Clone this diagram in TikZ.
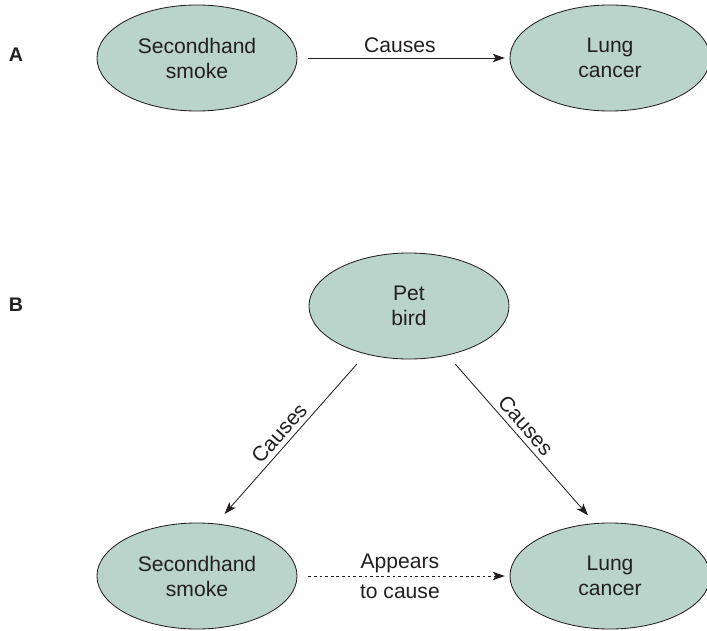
\documentclass[tikz,border=0pt]{standalone}
\usepackage{fontspec}
\setmainfont{Liberation Sans}
\usepackage{xcolor}
\usepackage{tikz}
\usetikzlibrary{shapes.geometric,arrows.meta}

\definecolor{factorfill}{RGB}{186,212,204}
\definecolor{inkgray}{RGB}{35,31,32}

\tikzset{
	factor/.style={ellipse, draw=inkgray, line width=0.6pt, fill=factorfill, minimum width=5cm, minimum height=2.65cm, inner sep=0pt, align=center, text=inkgray, font=\fontsize{15pt}{17.8pt}\selectfont, execute at begin node={\rule{0pt}{16.6pt}}},
	causes/.style={draw=inkgray, line width=0.6pt, -{Stealth[length=8.5pt,width=6pt,inset=2pt]}},
	appears/.style={causes, dash pattern=on 2pt off 2pt},
	tag/.style={text=inkgray, align=center, font=\fontsize{15pt}{21.3pt}\selectfont},
	panel/.style={text=inkgray, font=\fontsize{14pt}{16pt}\selectfont\bfseries}
}

\begin{document}
\begin{tikzpicture}[x=0.025cm, y=-0.025cm]
	\useasboundingbox (0,0) rectangle (707,630);
	\node[panel] (A) at (16,55) {A};
	\node[panel] (B) at (16,305) {B};
	\node[factor] (smokeA) at (197,58) {Secondhand\\smoke};
	\node[factor] (cancerA) at (610,58) {Lung\\cancer};
	\node[factor] (bird) at (409,306) {Pet\\bird};
	\node[factor] (smokeB) at (197,576) {Secondhand\\smoke};
	\node[factor] (cancerB) at (610,576) {Lung\\cancer};
	\draw[causes, shorten <=0.27cm, shorten >=0.12cm] (smokeA) -- node[tag, above, xshift=-0.09cm] {Causes} (cancerA);
	\draw[causes, shorten <=0.33cm, shorten >=0.32cm] (bird.228) -- node[tag, above, sloped, pos=0.515] {Causes} (smokeB.70);
	\draw[causes, shorten <=0.29cm, shorten >=0.26cm] (bird.308) -- node[tag, above, sloped, pos=0.467] {Causes} (cancerB.106);
	\draw[appears, shorten <=0.27cm, shorten >=0.12cm] (smokeB) -- node[tag, xshift=-0.09cm] {Appears\\to cause} (cancerB);
\end{tikzpicture}
\end{document}
